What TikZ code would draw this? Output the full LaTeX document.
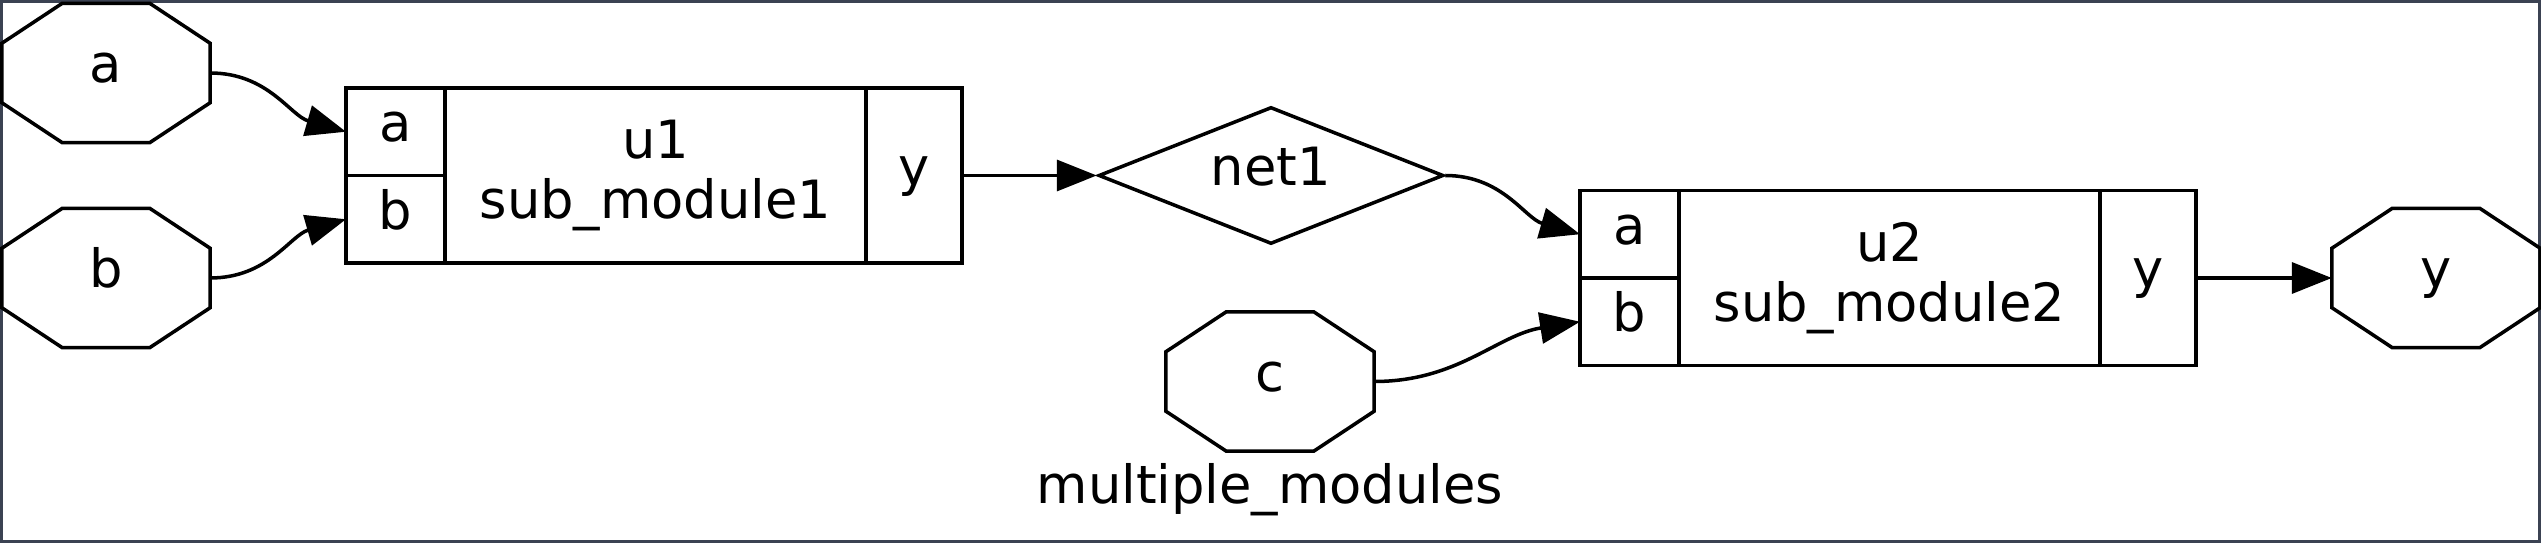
\documentclass[tikz,border=0pt]{standalone}
\usepackage{fontspec}
\setmainfont{DejaVu Sans}
\usetikzlibrary{shapes.geometric, arrows.meta, positioning, calc}
\definecolor{frameGray}{RGB}{59, 66, 82}

\begin{document}
\begin{tikzpicture}[
  every node/.style={font=\fontsize{15}{17}\selectfont},
  ioport/.style={
    rectangle,
    minimum width=2.07cm,
    minimum height=1.38cm,
    inner sep=0pt,
    text height=0.4cm,
    text depth=0.2cm
  },
  netnode/.style={
    diamond,
    draw,
    aspect=2.52,
    line width=1pt,
    minimum width=3.45cm,
    minimum height=1.37cm,
    inner sep=0pt,
    text height=0.4cm,
    text depth=0.2cm
  },
  modbody/.style={
    rectangle,
    draw,
    line width=1pt,
    minimum width=4.21cm,
    minimum height=1.75cm,
    inner sep=0pt,
    outer sep=0pt,
    align=center
  },
  portbox/.style={
    rectangle,
    draw,
    line width=1pt,
    minimum width=0.99cm,
    minimum height=0.875cm,
    inner sep=0pt,
    outer sep=0pt,
    text height=0.4cm,
    text depth=0.2cm
  },
  outbox/.style={portbox, minimum width=0.96cm, minimum height=1.75cm},
  outline/.style={draw, line width=1pt},
  wire/.style={draw, line width=1pt, -{Triangle[length=4mm, width=3.1mm]}}
]

  \path[use as bounding box, fill=white] (0,0) rectangle (25.41,5.43);
  \draw[frameGray, line width=0.06cm] (0,0) rectangle (25.41,5.43);

  % ── Ports du module ────────────────────────────────────────────
  \node[ioport] (ina)  at ( 1.06, 4.70)  {a};
  \node[ioport] (inb)  at ( 1.06, 2.65)  {b};
  \node[ioport] (inc)  at (12.70, 1.615) {c};
  \node[ioport] (outy) at (24.36, 2.65)  {y};

  \foreach \p in {ina, inb, inc, outy} {
    \draw[outline] ($(\p.north west)+(0.605,0)$) -- ($(\p.north east)+(-0.605,0)$)
      -- ($(\p.north east)+(0,-0.40)$) -- ($(\p.south east)+(0,0.40)$)
      -- ($(\p.south east)+(-0.605,0)$) -- ($(\p.south west)+(0.605,0)$)
      -- ($(\p.south west)+(0,0.40)$) -- ($(\p.north west)+(0,-0.40)$) -- cycle;
  }

  % ── Instances ──────────────────────────────────────────────────
  \node[modbody] (u1) at ( 6.555, 3.675) {u1\\sub\_module1};
  \node[portbox, anchor=north east] (u1a) at (u1.north west) {a};
  \node[portbox, anchor=south east] (u1b) at (u1.south west) {b};
  \node[outbox, right=0pt of u1] (u1y) {y};

  \node[modbody] (u2) at (18.895, 2.65) {u2\\sub\_module2};
  \node[portbox, anchor=north east] (u2a) at (u2.north west) {a};
  \node[portbox, anchor=south east] (u2b) at (u2.south west) {b};
  \node[outbox, right=0pt of u2] (u2y) {y};

  % ── Fil interne ────────────────────────────────────────────────
  \node[netnode] (net1) at (12.71, 3.675) {net1};

  \node[anchor=base] (title) at (12.70, 0.39) {multiple\_modules};

  % ── Connexions ─────────────────────────────────────────────────
  \draw[wire] (ina.east)  to[out=0, in=164] (u1a.west);
  \draw[wire] (inb.east)  to[out=0, in=196] (u1b.west);
  \draw[wire] (u1y.east)  -- (net1.west);
  \draw[wire] (net1.east) to[out=0, in=164] (u2a.west);
  \draw[wire] (inc.east)  to[out=0, in=189] (u2b.west);
  \draw[wire] (u2y.east)  -- (outy.west);

\end{tikzpicture}
\end{document}
